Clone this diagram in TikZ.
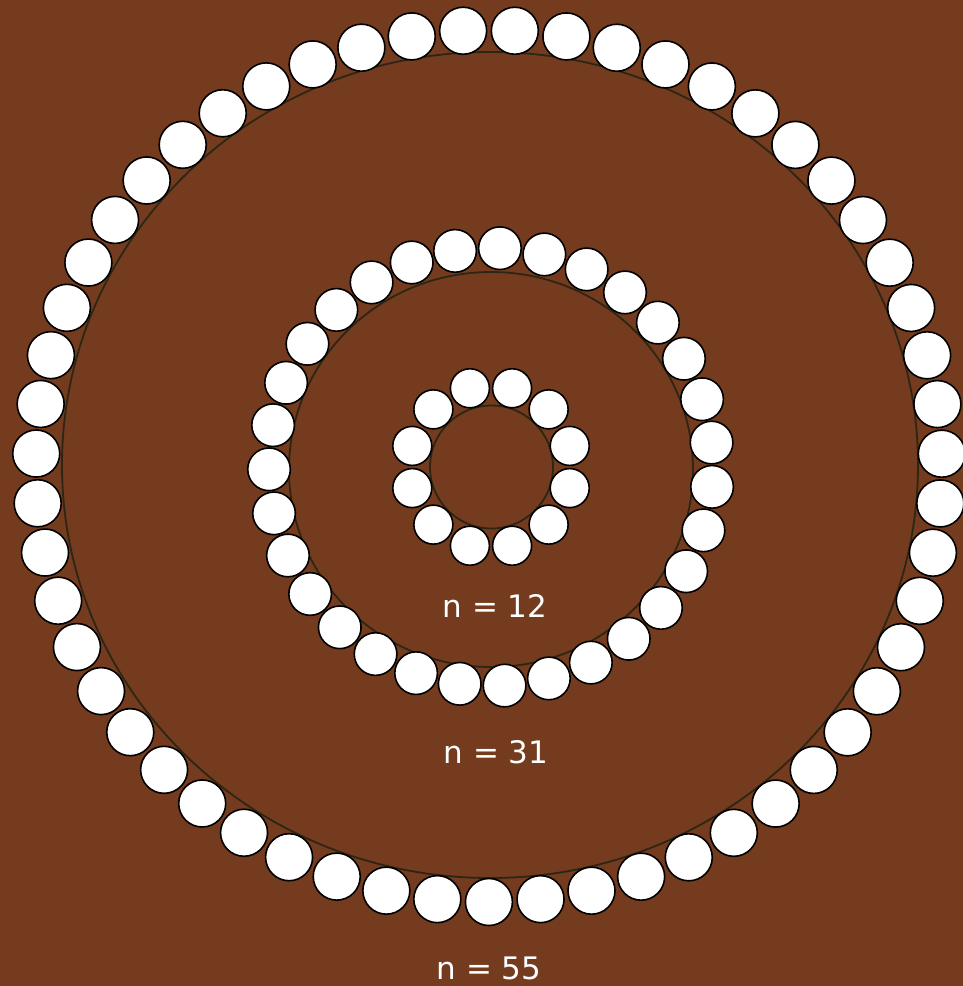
\documentclass[tikz,border=0pt]{standalone}
\usepackage{fontspec}
\setmainfont{DejaVu Sans}
\definecolor{bg}{RGB}{116,59,30}
\definecolor{ringline}{RGB}{45,38,20}
\begin{document}
\begin{tikzpicture}[x=1pt,y=-1pt,
  bead/.style={fill=white,draw=black,line width=1.6pt},
  ringc/.style={draw=ringline,line width=1.8pt},
  lbl/.style={text=white,font=\fontsize{31}{37}\selectfont,anchor=base,inner sep=0pt}]
\fill[bg] (0,0) rectangle (963,986);
\useasboundingbox (0,0) rectangle (963,986);
% guide circles
\draw[ringc] (490,465) ellipse [x radius=428pt, y radius=413pt];
\draw[ringc] (491,469.5) ellipse [x radius=202pt, y radius=197.5pt];
\draw[ringc] (491.5,467) circle [radius=61.5pt];
% outer ring, n = 55
\foreach \k in {0,...,54}{
  \path[bead] ({489+453*cos(86.73+\k*6.545)},{466-436*sin(86.73+\k*6.545)}) circle[radius=23.5pt];
}
% middle ring, n = 31
\foreach \k in {0,...,30}{
  \path[bead] ({491+222*cos(87.7+\k*11.613)},{467-219*sin(87.7+\k*11.613)}) circle[radius=21.3pt];
}
% inner ring, n = 12
\foreach \k in {0,...,11}{
  \path[bead] ({491+81.5*cos(15+\k*30)},{467-81.5*sin(15+\k*30)}) circle[radius=19.5pt];
}
\node[lbl] (l12) at (495,617) {n = 12};
\node[lbl] (l31) at (496,763) {n = 31};
\node[lbl] (l55) at (489,979) {n = 55};
\end{tikzpicture}
\end{document}
